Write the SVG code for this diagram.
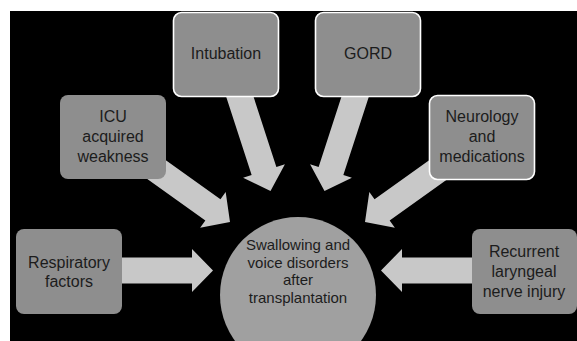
<svg xmlns="http://www.w3.org/2000/svg" width="577" height="341" viewBox="0 0 577 341">
<defs>
<style>
.box{fill:#8e8e8e;}
.wb{stroke:#ffffff;stroke-width:1.6;}
.arr{fill:#c8c8c8;}
.t{font-family:"Liberation Sans",Arial,sans-serif;font-size:16px;fill:#1c1c1c;text-anchor:middle;}
.c{font-size:15px;}
</style>
<path id="da" d="M-125,-13 L-21,-13 L-21,-22 L0,0 L-21,22 L-21,13 L-125,13 Z"/>
</defs>
<rect x="0" y="0" width="577" height="341" fill="#ffffff"/>
<rect x="10" y="11" width="567" height="330" fill="#000000"/>
<g id="connectors" class="arr">
<polygon points="115,257.5 192,257.5 192,249 213,270.5 192,292 192,283.5 115,283.5"/>
<polygon points="381,270.5 402,249 402,257.5 478,257.5 478,283.5 402,283.5 402,292"/>
<use href="#da" transform="translate(230,222) rotate(35.5)"/>
<use href="#da" transform="translate(365,222) rotate(144.5)"/>
<use href="#da" transform="translate(270.5,191) rotate(72)"/>
<use href="#da" transform="translate(324.5,191) rotate(108)"/>
</g>
<g id="center">
<circle cx="298" cy="295" r="78" fill="#a0a0a0"/>
<text class="t c"><tspan x="298" y="250">Swallowing and</tspan><tspan x="298" y="267.5">voice disorders</tspan><tspan x="298" y="285">after</tspan><tspan x="298" y="302.5">transplantation</tspan></text>
</g>
<g id="intubation">
<rect class="box wb" x="173.5" y="12.5" width="105" height="84" rx="8"/>
<text class="t" x="226" y="59">Intubation</text>
</g>
<g id="gord">
<rect class="box wb" x="315.5" y="12.5" width="105" height="84" rx="8"/>
<text class="t" x="368" y="59">GORD</text>
</g>
<g id="icu">
<rect class="box" x="60" y="95" width="106" height="84" rx="8"/>
<text class="t"><tspan x="113" y="122">ICU</tspan><tspan x="113" y="142">acquired</tspan><tspan x="113" y="162">weakness</tspan></text>
</g>
<g id="neurology">
<rect class="box wb" x="429.5" y="95.5" width="105" height="84" rx="8"/>
<text class="t"><tspan x="482" y="122">Neurology</tspan><tspan x="482" y="142">and</tspan><tspan x="482" y="161.5">medications</tspan></text>
</g>
<g id="respiratory">
<rect class="box" x="16" y="229" width="106" height="85" rx="8"/>
<text class="t"><tspan x="69" y="268">Respiratory</tspan><tspan x="69" y="287">factors</tspan></text>
</g>
<g id="recurrent">
<rect class="box" x="472" y="229" width="105" height="85" rx="8"/>
<text class="t"><tspan x="524" y="257">Recurrent</tspan><tspan x="524" y="277">laryngeal</tspan><tspan x="524" y="297">nerve injury</tspan></text>
</g>
</svg>
